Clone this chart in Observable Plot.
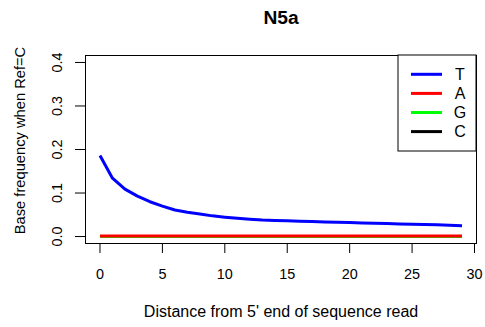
<!DOCTYPE html>
<html>
<head>
<meta charset="utf-8">
<script src="https://cdn.jsdelivr.net/npm/d3@7"></script>
<script src="https://cdn.jsdelivr.net/npm/@observablehq/plot@0.6"></script>
<style>
  html, body { margin: 0; padding: 0; background: #fff; }
  #chart svg { display: block; }
</style>
</head>
<body>
<div id="chart"></div>
<script>
const titleText = "N5a";
const xLabel = "Distance from 5' end of sequence read";
const yLabel = "Base frequency when Ref=C";
const positions = [0,1,2,3,4,5,6,7,8,9,10,11,12,13,14,15,16,17,18,19,20,21,22,23,24,25,26,27,28,29];
const seriesNames = ["T", "A", "G", "C"];
const seriesColors = ["#0000ff", "#ff0000", "#00ff00", "#000000"];
const valuesT = [0.186,0.134,0.109,0.093,0.080,0.070,0.061,0.056,0.052,0.0475,0.0445,0.042,0.040,0.038,0.0367,0.036,0.035,0.0343,0.0335,0.0328,0.032,0.0313,0.0305,0.0298,0.029,0.0283,0.0275,0.0268,0.026,0.0248];
const valuesA = [0.0015,0.0015,0.0015,0.0015,0.0015,0.0015,0.0015,0.0015,0.0015,0.0015,0.0015,0.0015,0.0015,0.0015,0.0015,0.0015,0.0015,0.0015,0.0015,0.0015,0.0015,0.0015,0.0015,0.0015,0.0015,0.0015,0.0015,0.0015,0.0015,0.0015];
const valuesG = [0.0003,0.0003,0.0003,0.0003,0.0003,0.0003,0.0003,0.0003,0.0003,0.0003,0.0003,0.0003,0.0003,0.0003,0.0003,0.0003,0.0003,0.0003,0.0003,0.0003,0.0003,0.0003,0.0003,0.0003,0.0003,0.0003,0.0003,0.0003,0.0003,0.0003];
const valuesC = [0,0,0,0,0,0,0,0,0,0,0,0,0,0,0,0,0,0,0,0,0,0,0,0,0,0,0,0,0,0];
const xTicks = [0,5,10,15,20,25,30];
const yTicks = [0.0,0.1,0.2,0.3,0.4];

const seriesValues = {T: valuesT, A: valuesA, G: valuesG, C: valuesC};
// drawing order: C, G, A, T (T on top)
const drawOrder = ["C", "G", "A", "T"];
const rows = [];
for (const s of drawOrder) {
  positions.forEach((p, i) => rows.push({series: s, x: p, y: seriesValues[s][i]}));
}

const font = "'Liberation Sans', Arial, Helvetica, sans-serif";

const plot = Plot.plot({
  width: 485,
  height: 327,
  marginLeft: 85,
  marginRight: 9,
  marginTop: 55,
  marginBottom: 84,
  style: {fontFamily: font, background: "#fff", color: "#000", overflow: "visible"},
  x: {domain: [-1.16, 30.16]},
  y: {domain: [-0.016, 0.416]},
  color: {domain: seriesNames, range: seriesColors},
  marks: [
    Plot.line(rows, {x: "x", y: "y", z: "series", stroke: "series", strokeWidth: 3, strokeLinejoin: "round", strokeLinecap: "butt"}),
    Plot.frame({stroke: "#000", strokeWidth: 1}),
    Plot.axisX(xTicks, {tickSize: 10, tickPadding: 15, fontSize: 14.4, label: null, stroke: "#000", fill: "#000"}),
    Plot.axisY(yTicks, {tickSize: 10, tickFormat: () => "", label: null, stroke: "#000"}),
    Plot.text(yTicks, {y: d => d, text: d => d.toFixed(1), frameAnchor: "left", rotate: -90, dx: -28, textAnchor: "middle", lineAnchor: "middle", fontSize: 14.4, fill: "#000"}),
    Plot.text([yLabel], {frameAnchor: "left", rotate: -90, dx: -65, dy: -9, textAnchor: "middle", lineAnchor: "middle", fontSize: 14.7, fill: "#000"}),
    Plot.text([xLabel], {frameAnchor: "bottom", dy: 68, textAnchor: "middle", lineAnchor: "middle", fontSize: 16, fill: "#000"}),
    Plot.text([titleText], {frameAnchor: "top", dy: -38, textAnchor: "middle", lineAnchor: "middle", fontSize: 19.2, fontWeight: "bold", fill: "#000"})
  ]
});

document.getElementById("chart").appendChild(plot);

// Legend (R-style, top-right inside plot box)
const xScale = plot.scale("x");
const yScale = plot.scale("y");
const boxRight = Math.max(...xScale.range);
const boxTop = Math.min(...yScale.range);
const boxW = 78, boxH = 96;
const svg = d3.select(plot);
const g = svg.append("g").attr("font-family", font);
g.append("rect")
  .attr("x", boxRight - boxW).attr("y", boxTop)
  .attr("width", boxW).attr("height", boxH)
  .attr("fill", "#fff").attr("stroke", "#000").attr("stroke-width", 1);
seriesNames.forEach((name, i) => {
  const cy = boxTop + 19.3 + i * 19.1;
  g.append("line")
    .attr("x1", boxRight - boxW + 13).attr("x2", boxRight - boxW + 44)
    .attr("y1", cy).attr("y2", cy)
    .attr("stroke", seriesColors[i]).attr("stroke-width", 3);
  g.append("text")
    .attr("x", boxRight - boxW + 62).attr("y", cy)
    .attr("dy", "0.35em")
    .attr("text-anchor", "middle")
    .attr("font-size", 16)
    .attr("fill", "#000")
    .text(name);
});
</script>
</body>
</html>
